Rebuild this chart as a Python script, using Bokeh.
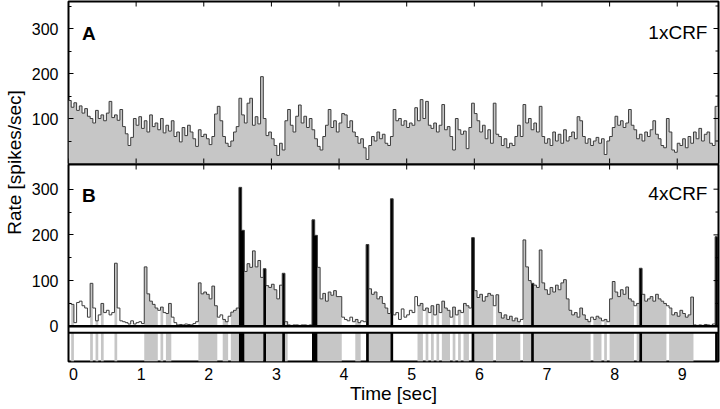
import math
from bokeh.plotting import figure
from bokeh.layouts import row, column
from bokeh.models import Range1d, LinearAxis, FixedTicker, Label, Span
from bokeh.embed import file_html
from bokeh.resources import INLINE

# ---------------- data ----------------
BIN_WIDTH = 0.04  # sec

# Panel A (1xCRF) rate per bin [spikes/sec]
rate_a = [
    140, 125, 135, 118, 128, 112, 122, 105, 100, 90, 118, 100, 108, 95, 112, 138, 102, 108, 96, 120, 82, 66, 40, 58, 100,
    85, 104, 78, 95, 70, 108, 82, 90, 75, 100, 68, 85, 72, 95, 60, 70, 48, 80, 62, 85, 70, 55, 38, 75, 60,
    65, 55, 42, 60, 110, 127, 95, 60, 45, 38, 50, 70, 82, 145, 108, 90, 134, 145, 85, 104, 88, 193, 100, 62, 70,
    55, 40, 18, 45, 30, 95, 120, 85, 70, 105, 130, 90, 105, 80, 100, 75, 55, 38, 30, 60, 85, 120, 80, 95, 70,
    90, 111, 108, 80, 95, 70, 60, 45, 55, 35, 9, 40, 60, 50, 70, 55, 65, 45, 40, 60, 120, 95, 100, 85, 95,
    80, 90, 85, 124, 95, 142, 100, 138, 85, 78, 90, 70, 85, 131, 75, 82, 60, 30, 100, 75, 65, 72, 33, 80, 134,
    111, 95, 70, 85, 55, 75, 45, 134, 65, 60, 40, 55, 35, 45, 40, 60, 85, 60, 131, 90, 100, 75, 90, 70, 127,
    60, 45, 55, 40, 70, 50, 65, 45, 75, 50, 60, 70, 55, 104, 95, 60, 45, 55, 40, 50, 58, 45, 55, 20, 50,
    60, 80, 105, 85, 95, 80, 90, 120, 85, 75, 55, 65, 50, 70, 60, 75, 95, 65, 55, 40, 35, 100, 70, 30, 25,
    45, 40, 55, 35, 60, 45, 70, 55, 78, 50, 65, 70, 45, 40, 127,
]

# Panel B (4xCRF) rate per bin [spikes/sec]
rate_b = [
    50, 48, 8, 52, 55, 45, 40, 20, 94, 40, 12, 25, 50, 30, 35, 25, 30, 138, 40, 12, 10, 8, 5, 12, 5,
    8, 10, 6, 130, 71, 55, 48, 40, 35, 42, 30, 28, 50, 20, 8, 3, 4, 3, 5, 4, 3, 6, 10, 95, 71,
    75, 70, 60, 88, 45, 20, 25, 15, 10, 22, 31, 35, 40, 304, 210, 120, 137, 129, 165, 130, 144, 107, 126, 89, 85,
    92, 80, 60, 90, 116, 10, 3, 2, 3, 3, 2, 3, 3, 2, 3, 233, 199, 129, 60, 72, 55, 75, 68, 78, 65,
    65, 20, 15, 12, 20, 10, 15, 8, 12, 10, 179, 82, 70, 75, 60, 65, 50, 40, 28, 279, 25, 30, 15, 38, 20,
    25, 35, 30, 65, 45, 50, 35, 40, 30, 45, 25, 48, 30, 55, 40, 35, 20, 42, 25, 35, 30, 50, 45, 40, 194,
    78, 63, 70, 55, 65, 72, 68, 45, 69, 30, 18, 25, 15, 22, 12, 18, 10, 15, 189, 130, 100, 94, 90, 85, 167,
    95, 80, 70, 85, 75, 90, 80, 95, 102, 60, 35, 25, 30, 20, 40, 25, 15, 10, 20, 15, 22, 18, 12, 15, 10,
    60, 98, 75, 65, 80, 70, 86, 60, 55, 45, 50, 127, 70, 55, 60, 65, 55, 70, 60, 55, 50, 45, 40, 25, 30,
    22, 35, 28, 20, 25, 64, 3, 2, 3, 2, 4, 3, 2, 5, 196,
]

# Panel B bin state: 0 = none, 1 = gray, 2 = black
state_b = [
    0, 1, 0, 0, 0, 0, 0, 0, 1, 0, 1, 0, 1, 0, 0, 0, 0, 1, 0, 0, 0, 0, 0, 0, 0,
    0, 0, 0, 1, 1, 1, 1, 1, 0, 1, 0, 1, 1, 0, 0, 0, 0, 0, 0, 0, 0, 0, 0, 1, 1,
    1, 1, 1, 1, 1, 0, 0, 1, 1, 0, 1, 1, 1, 2, 2, 1, 1, 1, 1, 1, 1, 1, 2, 1, 1,
    1, 1, 1, 1, 2, 1, 0, 0, 0, 0, 0, 0, 0, 0, 0, 2, 2, 1, 1, 1, 1, 1, 1, 1, 1,
    1, 0, 0, 0, 0, 0, 1, 1, 0, 0, 2, 1, 1, 1, 1, 1, 1, 1, 1, 2, 0, 0, 0, 0, 0,
    0, 0, 0, 0, 1, 1, 0, 1, 0, 1, 0, 1, 0, 1, 1, 1, 0, 1, 0, 1, 0, 1, 1, 0, 2,
    1, 1, 1, 1, 1, 1, 1, 0, 1, 1, 1, 1, 1, 1, 1, 1, 1, 0, 1, 1, 1, 2, 1, 1, 1,
    1, 1, 1, 1, 1, 1, 1, 1, 1, 1, 1, 1, 1, 1, 1, 1, 1, 1, 0, 1, 1, 1, 0, 1, 0,
    1, 1, 1, 1, 1, 1, 1, 1, 1, 0, 1, 2, 1, 1, 1, 1, 1, 1, 1, 1, 1, 0, 1, 1, 1,
    1, 1, 1, 1, 1, 1, 0, 0, 0, 0, 0, 0, 0, 0, 2,
]

time_ticks = [0, 1, 2, 3, 4, 5, 6, 7, 8, 9]
rate_ticks_a = [100, 200, 300]
rate_minor_a = [50, 150, 250, 350]
rate_ticks_b = [0, 100, 200, 300]
rate_minor_b = [50, 150, 250]
panel_letters = ["A", "B"]
conditions = ["1xCRF", "4xCRF"]
x_title = "Time [sec]"
y_title = "Rate [spikes/sec]"

assert len(rate_a) == len(rate_b) == len(state_b) == 240

# ---------------- styling ----------------
FONT = "Liberation Sans"
GRAY = "#c6c6c6"
DARK = "#3c3c3c"
X_END = 9.61
LABEL_SHIFT = 0.074
A_TOP, B_TOP, B_BOTTOM, STRIP_TOP = 360, 354, -77, -14

n = len(rate_a)
edges = [i * BIN_WIDTH for i in range(n + 1)]


def closed(vals):
    # repeat the last value so that the last bin is drawn in "after" step mode
    return list(vals) + [vals[-1]]


def base_fig(width, height, y_range, **kw):
    p = figure(width=width, height=height, x_range=Range1d(0, X_END), y_range=y_range,
               output_backend="svg", toolbar_location=None,
               x_axis_location=None, y_axis_location=None, **kw)
    p.grid.visible = False
    p.outline_line_color = "black"
    p.outline_line_width = 2
    p.background_fill_color = "white"
    p.border_fill_color = "white"
    return p


def left_axis(ticks, minor):
    return LinearAxis(ticker=FixedTicker(ticks=ticks, minor_ticks=minor),
                      major_label_text_font=FONT, major_label_text_font_size="16px",
                      major_label_text_color="black",
                      major_label_standoff=10, axis_line_color=None,
                      major_tick_in=5, major_tick_out=0, minor_tick_in=3, minor_tick_out=0)


def inner_ticks(p, y_top, y_bottom, major, minor, top=True, bottom=True):
    # short inward tick marks on the top / bottom / right frame edges
    if top:
        p.ray(x=time_ticks, y=[y_top] * len(time_ticks), length=5, length_units="screen",
              angle=-math.pi / 2, line_color="black", line_width=1)
    if bottom:
        p.ray(x=time_ticks, y=[y_bottom] * len(time_ticks), length=5, length_units="screen",
              angle=math.pi / 2, line_color="black", line_width=1)
    p.ray(x=[X_END] * len(major), y=major, length=5, length_units="screen",
          angle=math.pi, line_color="black", line_width=1)
    p.ray(x=[X_END] * len(minor), y=minor, length=3, length_units="screen",
          angle=math.pi, line_color="black", line_width=1)


# ---------------- panel A ----------------
pA = base_fig(692, 164, Range1d(0, A_TOP), min_border_left=40, min_border_right=2,
              min_border_top=1, min_border_bottom=1)
pA.add_layout(left_axis(rate_ticks_a, rate_minor_a), "left")

pA.varea_step(x=edges, y1=0, y2=closed(rate_a), step_mode="after", fill_color=GRAY)
pA.step(x=edges, y=closed(rate_a), mode="after", line_color=DARK, line_width=1)
inner_ticks(pA, A_TOP, 0, rate_ticks_a, rate_minor_a)

pA.add_layout(Label(x=0.2, y=289, text=panel_letters[0], text_font=FONT, text_font_size="19px",
                    text_font_style="bold", text_color="black",
                    text_baseline="alphabetic", text_align="left"))
pA.add_layout(Label(x=9.447, y=291, text=conditions[0], text_font=FONT, text_font_size="19px",
                    text_color="black", text_baseline="alphabetic", text_align="right"))

# ---------------- panel B ----------------
pB = base_fig(692, 245, Range1d(B_BOTTOM, B_TOP), min_border_left=40, min_border_right=2,
              min_border_top=0, min_border_bottom=48,
              extra_x_ranges={"lab": Range1d(-LABEL_SHIFT, X_END - LABEL_SHIFT)})
pB.x_range = pA.x_range
pB.add_layout(left_axis(rate_ticks_b, rate_minor_b), "left")
pB.add_layout(LinearAxis(x_range_name="lab", ticker=FixedTicker(ticks=time_ticks, minor_ticks=[]),
                         major_tick_in=0, major_tick_out=0, minor_tick_in=0, minor_tick_out=0,
                         axis_line_color=None, major_label_standoff=6,
                         major_label_text_font=FONT, major_label_text_font_size="16px",
                         major_label_text_color="black",
                         axis_label=x_title, axis_label_text_font=FONT,
                         axis_label_text_color="black",
                         axis_label_text_font_size="19px", axis_label_text_font_style="normal",
                         axis_label_standoff=0), "below")

for state, color in ((1, GRAY), (2, "black")):
    layer = [r if s == state else 0 for r, s in zip(rate_b, state_b)]
    pB.varea_step(x=edges, y1=0, y2=closed(layer), step_mode="after", fill_color=color)
    strip = [STRIP_TOP if s == state else B_BOTTOM for s in state_b]
    pB.varea_step(x=edges, y1=B_BOTTOM, y2=closed(strip), step_mode="after", fill_color=color)

pB.step(x=edges, y=closed(rate_b), mode="after", line_color=DARK, line_width=1)
pB.add_layout(Span(location=0, dimension="width", line_color="black", line_width=2.5))
pB.add_layout(Span(location=STRIP_TOP, dimension="width", line_color="black", line_width=2))
inner_ticks(pB, B_TOP, 0, rate_ticks_b, rate_minor_b, bottom=False)

pB.add_layout(Label(x=0.2, y=286, text=panel_letters[1], text_font=FONT, text_font_size="19px",
                    text_font_style="bold", text_color="black",
                    text_baseline="alphabetic", text_align="left"))
pB.add_layout(Label(x=9.447, y=290, text=conditions[1], text_font=FONT, text_font_size="19px",
                    text_color="black", text_baseline="alphabetic", text_align="right"))

# ---------------- y title ----------------
ylab = figure(width=28, height=409, x_range=Range1d(0, 28), y_range=Range1d(409, 0),
              output_backend="svg", toolbar_location=None,
              x_axis_location=None, y_axis_location=None,
              min_border_left=0, min_border_right=0, min_border_top=0, min_border_bottom=0)
ylab.grid.visible = False
ylab.outline_line_color = None
ylab.add_layout(Label(x=13.5, y=162, text=y_title, angle=math.pi / 2, text_font=FONT,
                      text_color="black", text_font_size="19px",
                      text_align="center", text_baseline="middle"))

root = row(ylab, column(pA, pB))

open("out.html", "w").write(file_html(root, INLINE))
